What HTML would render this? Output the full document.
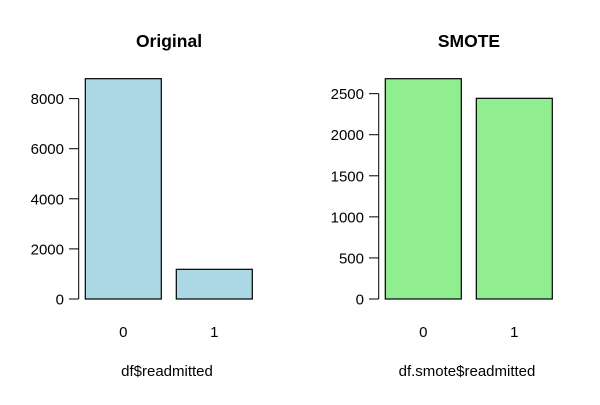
<!DOCTYPE html>
<html><head><meta charset="utf-8"><style>
html,body{margin:0;padding:0;background:#fff}
svg text{font-family:"Liberation Sans",Arial,sans-serif;fill:#000}
</style></head><body>
<svg id="c" width="600" height="400"></svg>
<script>
const categories = ["0","1"];
const originalValues = [8795, 1185];
const smoteValues = [2682, 2443];
const originalTicks = [0,2000,4000,6000,8000];
const smoteTicks = [0,500,1000,1500,2000,2500];
const NS="http://www.w3.org/2000/svg";
const svg=document.getElementById('c');
function mk(t,a,p){const e=document.createElementNS(NS,t);for(const k in a)e.setAttribute(k,a[k]);(p||svg).appendChild(e);return e;}
function panel(ox,title,xlab,vals,ticks,perUnit,color,key){
  const g=mk('g',{});
  
  
  const y0=299;
  const y=v=>y0-v*perUnit;
  const t=mk('text',{x:ox+91,y:47,'text-anchor':'middle','font-size':17.5,'font-weight':'bold'},g);
  t.textContent=title;
  
  
  const ax=mk('line',{x1:ox+0.7,x2:ox+0.7,y1:y(ticks[0]),y2:y(ticks[ticks.length-1]),stroke:'#000','stroke-width':1},g);
  
  
  ticks.forEach(v=>{
    mk('line',{x1:ox-9,x2:ox+0.7,y1:y(v),y2:y(v),stroke:'#000'},g);
    const l=mk('text',{x:ox-14,y:y(v)+5.5,'text-anchor':'end','font-size':15},g);
    l.textContent=v;
    
    
  });
  vals.forEach((v,i)=>{
    const bx=ox+7.3+i*91;
    const r=mk('rect',{x:bx,y:y(v),width:76,height:y0-y(v),fill:color,stroke:'#000','stroke-width':1.2},g);
    
    
    const l=mk('text',{x:bx+38,y:337,'text-anchor':'middle','font-size':15},g);
    l.textContent=categories[i];
    
    
  });
  const xl=mk('text',{x:ox+89,y:376,'text-anchor':'middle','font-size':15},g);
  xl.textContent=xlab;
  
  
}
panel(78,'Original','df$readmitted',originalValues,originalTicks,50.1/2000,'#add8e6','original');
panel(378,'SMOTE','df.smote$readmitted',smoteValues,smoteTicks,41.07/500,'#90ee90','smote');
</script>
</body></html>
